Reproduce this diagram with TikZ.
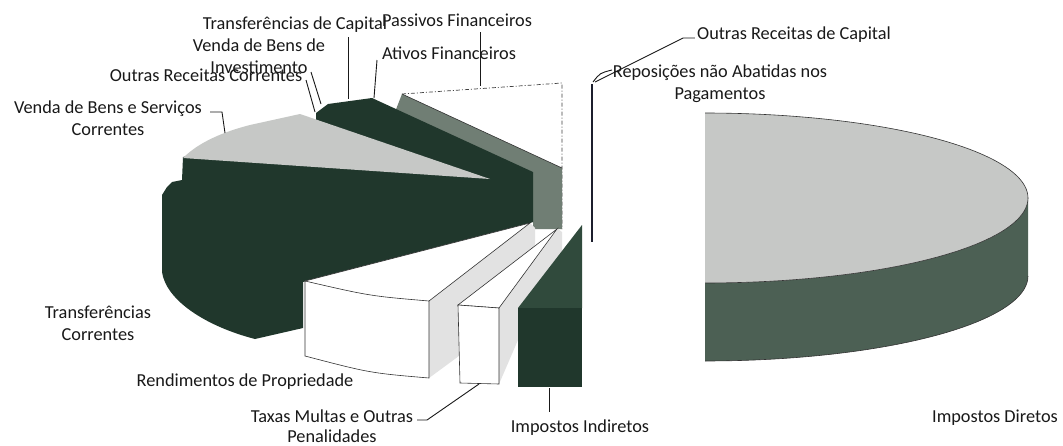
\documentclass[tikz,border=0pt]{standalone}
\usepackage{fontspec}
\setmainfont{Carlito}
\definecolor{dkg}{RGB}{32,55,44}
\definecolor{dkg2}{RGB}{48,74,60}
\definecolor{midg}{RGB}{112,126,116}
\definecolor{lg}{RGB}{198,200,198}
\definecolor{sideg}{RGB}{76,96,84}
\definecolor{wside}{RGB}{226,226,226}
\definecolor{txt}{RGB}{25,25,25}
\definecolor{barc}{RGB}{28,30,45}
\begin{document}
\begin{tikzpicture}[x=1pt,y=-1pt,
  lbl/.style={font=\fontsize{18.3}{22}\selectfont, text=txt, inner sep=0pt, align=center},
  lead/.style={draw=txt, line width=0.9pt},
  edge/.style={draw=black!80, line width=0.6pt}]
\useasboundingbox (0,0) rectangle (1063,445);
\fill[white] (0,0) rectangle (1063,445);

% Passivos Financeiros (white slice, dotted outline)
\draw[black!75, line width=0.7pt, dash pattern=on 4pt off 2pt on 1pt off 2pt] (402,94) -- (562,83) -- (562,229);

% Ativos Financeiros band
\fill[midg] (402,94) -- (562,168) -- (562,229) -- (533,229) -- (533,175) -- (395,112) -- cycle;
\draw[edge] (402,94) -- (562,168);

% Transferencias Correntes + small dark slices
\fill[dkg] (316,126) -- (316,113) -- (328,104) -- (372,98) -- (533,172) -- (533,222) -- (530,223)
  -- (303,282) -- (303,328) -- (255,339) .. controls (205,326) and (166,300) .. (162,272)
  -- (162,195) -- (167,187) -- (172,182) -- (182,180) -- (183,157) -- cycle;

% Venda de Bens e Servicos top face
\fill[lg] (183,158) .. controls (195,146) and (215,134) .. (250,125) -- (300,114) -- (490,179) -- cycle;

% Rendimentos de Propriedade
\fill[wside] (429,301) -- (530,223) -- (535,228) -- (535,300) -- (429,378) -- cycle;
\fill[white] (305,281) -- (530,223) -- (429,301) .. controls (370,296) .. (305,281) -- cycle;
\filldraw[fill=white, edge] (305,281) .. controls (370,296) .. (429,301) -- (429,378) .. controls (370,373) .. (305,356) -- cycle;
\draw[edge] (305,281) -- (530,223) -- (429,301);

% Taxas Multas e Outras Penalidades
\fill[wside] (499,308) -- (558,229) -- (562,232) -- (562,290) -- (518,340) -- (499,384) -- cycle;
\filldraw[fill=white, edge] (458,305) -- (557,229) -- (499,308) -- cycle;
\filldraw[fill=white, edge] (458,305) -- (499,308) -- (499,384) -- (460,383) -- cycle;

% Impostos Indiretos
\fill[dkg2] (582,225) -- (518,308) -- (582,308) -- cycle;
\fill[dkg] (518,308) rectangle (582,387);

% thin slices seen edge-on
\draw[line width=2.4pt, barc] (592,84) -- (592,242);

% Impostos Diretos
\fill[sideg] plot[domain=0:90, samples=40] ({705+323*cos(\x)},{198+85*sin(\x)})
  -- plot[domain=90:0, samples=40] ({705+323*cos(\x)},{276+85*sin(\x)}) -- cycle;
\fill[lg] plot[domain=-90:90, samples=80] ({705+323*cos(\x)},{198+85*sin(\x)}) -- cycle;
\draw[edge] plot[domain=-90:0, samples=60] ({705+323*cos(\x)},{198+85*sin(\x)});
\draw[edge] plot[domain=0:90, samples=40] ({705+323*cos(\x)},{198+85*sin(\x)});
\draw[edge] plot[domain=0:90, samples=40] ({705+323*cos(\x)},{276+85*sin(\x)});

% Labels
\node[lbl] (tcap) at (295,25) {Transferências de Capital};
\node[lbl] (pf) at (457,20) {Passivos Financeiros};
\node[lbl] (vbi) at (259,56) {Venda de Bens de\\Investimento};
\node[lbl] (orc) at (206,75) {Outras Receitas Correntes};
\node[lbl] (af) at (449,53) {Ativos Financeiros};
\node[lbl] (vbs) at (108,118) {Venda de Bens e Serviços\\Correntes};
\node[lbl] (orcap) at (794,35) {Outras Receitas de Capital};
\node[lbl] (rep) at (720,84) {Reposições não Abatidas nos\\Pagamentos};
\node[lbl] (tcor) at (98,323) {Transferências\\Correntes};
\node[lbl] (rp) at (245,382) {Rendimentos de Propriedade};
\node[lbl, font=\fontsize{18.3}{20}\selectfont] (tx) at (332,426) {Taxas Multas e Outras\\Penalidades};
\node[lbl] (ii) at (580,428) {Impostos Indiretos};
\node[lbl] (id) at (995,418) {Impostos Diretos};

% Leader lines
\coordinate (eVBS) at (225,133);
\coordinate (eINV) at (321,104);
\coordinate (eORC) at (315,112);
\coordinate (eTC) at (348,99);
\coordinate (eAF) at (374,98);
\coordinate (ePF) at (480,86);
\coordinate (eORCAP) at (595,82);
\coordinate (eREP) at (593,82);
\coordinate (eTX) at (479,384);
\coordinate (eII) at (549,388);
\draw[lead] (210,112) -- (222,112) -- (eVBS);
\draw[lead] (311,72) -- (eINV);
\draw[lead] (306,80) -- (eORC);
\draw[lead] (348,37) -- (eTC);
\draw[lead] (377,60) -- (eAF);
\draw[lead] (480,32) -- (ePF);
\draw[lead] (orcap.west) ++(-2,3) -- (683,38) -- (eORCAP);
\draw[lead] (612,70) .. controls (600,73) .. (eREP);
\draw[lead] (417,420) -- (427,420) -- (eTX);
\draw[lead] (eII) -- (549,412);
\end{tikzpicture}
\end{document}
